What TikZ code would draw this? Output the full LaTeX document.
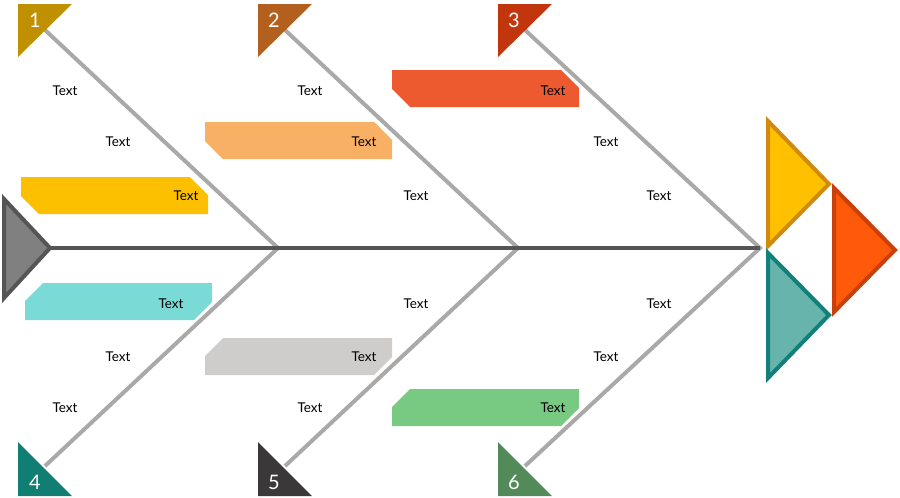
\documentclass[tikz,border=0pt]{standalone}
\usepackage{fontspec}
\setmainfont{Lato}
\usetikzlibrary{calc}
\definecolor{bonegray}{HTML}{ABA8A8}
\definecolor{spinegray}{HTML}{555555}
\definecolor{baryellow}{HTML}{FDC000}
\definecolor{barpeach}{HTML}{F7B064}
\definecolor{barred}{HTML}{EE5A30}
\definecolor{barcyan}{HTML}{7ADBD6}
\definecolor{bargray}{HTML}{CFCCCC}
\definecolor{bargreen}{HTML}{78C981}
\definecolor{flagone}{HTML}{BF9000}
\definecolor{flagtwo}{HTML}{B35F1E}
\definecolor{flagthree}{HTML}{C2360E}
\definecolor{flagfour}{HTML}{117E74}
\definecolor{flagfive}{HTML}{3A3838}
\definecolor{flagsix}{HTML}{538A5A}
\newcommand{\barw}{187}
\newcommand{\barh}{37}
\newcommand{\cut}{18}
% bar with cut corners, upper kind and lower kind
\newcommand{\upbar}[3]{\fill[#3] (#1,#2) -- ++(\barw-\cut,0) -- ++(\cut,\cut) -- ++(0,\barh-\cut) -- ++(-\barw+\cut,0) -- ++(-\cut,-\cut) -- cycle;}
\newcommand{\lowbar}[3]{\fill[#3] (#1+\cut,#2) -- ++(\barw-\cut,0) -- ++(0,\barh-\cut) -- ++(-\cut,\cut) -- ++(-\barw+\cut,0) -- ++(0,-\barh+\cut) -- cycle;}
\tikzset{
  lbl/.style={font=\fontsize{13.5}{15}\selectfont},
  num/.style={font=\fontsize{20}{22}\selectfont, text=white},
  bone/.style={bonegray, line width=4pt},
  head/.style={line width=4pt, line join=miter}
}
\begin{document}
\begin{tikzpicture}[x=1pt,y=-1pt]
\useasboundingbox (0,0) rectangle (900,498);
% joints on the spine
\coordinate (j1) at (278,248);
\coordinate (j2) at (518,248);
\coordinate (j3) at (760,248);
\coordinate (tail) at (50,248);
\coordinate (t1) at (45,30);
\coordinate (t2) at (285,30);
\coordinate (t3) at (525,30);
\coordinate (b4) at (45,466);
\coordinate (b5) at (285,466);
\coordinate (b6) at (525,466);
% bars
\upbar{21}{177}{baryellow}
\upbar{205}{122}{barpeach}
\upbar{392}{70}{barred}
\lowbar{25}{283}{barcyan}
\lowbar{205}{338}{bargray}
\lowbar{392}{389}{bargreen}
% bones
\draw[bone] (t1) -- (j1) -- (b4);
\draw[bone] (t2) -- (j2) -- (b5);
\draw[bone] (t3) -- (j3) -- (b6);
\draw[spinegray, line width=4pt] (tail) -- (j3);
% tail
\filldraw[head, draw=spinegray, fill=black!50] (4,199) -- (50,248) -- (4,298) -- cycle;
% head
\filldraw[head, draw={rgb,255:red,208;green,139;blue,15}, fill={rgb,255:red,255;green,192;blue,0}] (768,121) -- (829,184) -- (768,246) -- cycle;
\filldraw[head, draw={rgb,255:red,201;green,64;blue,11}, fill={rgb,255:red,255;green,90;blue,10}] (834,188) -- (895,250) -- (834,312) -- cycle;
\filldraw[head, draw={rgb,255:red,18;green,128;blue,122}, fill={rgb,255:red,102;green,180;blue,172}] (768,253) -- (829,315) -- (768,378) -- cycle;
% flags
\fill[flagone] (18,4) -- (72,4) -- (18,57) -- cycle;
\fill[flagtwo] (258,4) -- (312,4) -- (258,57) -- cycle;
\fill[flagthree] (498,4) -- (552,4) -- (498,57) -- cycle;
\fill[flagfour] (18,442) -- (72,496) -- (18,496) -- cycle;
\fill[flagfive] (258,442) -- (312,496) -- (258,496) -- cycle;
\fill[flagsix] (498,442) -- (552,496) -- (498,496) -- cycle;
\node[num] (n1) at (35,20) {1};
\node[num] (n2) at (274,20) {2};
\node[num] (n3) at (514,20) {3};
\node[num] (n4) at (35,482) {4};
\node[num] (n5) at (274,482) {5};
\node[num] (n6) at (514,482) {6};
% labels
\node[lbl] (a1) at (65,91) {Text};
\node[lbl] (a2) at (118,142) {Text};
\node[lbl] (a3) at (186,196) {Text};
\node[lbl] (c1) at (310,91) {Text};
\node[lbl] (c2) at (364,142) {Text};
\node[lbl] (c3) at (416,196) {Text};
\node[lbl] (e1) at (553,91) {Text};
\node[lbl] (e2) at (606,142) {Text};
\node[lbl] (e3) at (659,196) {Text};
\node[lbl] (d1) at (171,304) {Text};
\node[lbl] (d2) at (118,357) {Text};
\node[lbl] (d3) at (65,408) {Text};
\node[lbl] (f1) at (416,304) {Text};
\node[lbl] (f2) at (364,357) {Text};
\node[lbl] (f3) at (310,408) {Text};
\node[lbl] (g1) at (659,304) {Text};
\node[lbl] (g2) at (606,357) {Text};
\node[lbl] (g3) at (553,408) {Text};
\end{tikzpicture}
\end{document}
